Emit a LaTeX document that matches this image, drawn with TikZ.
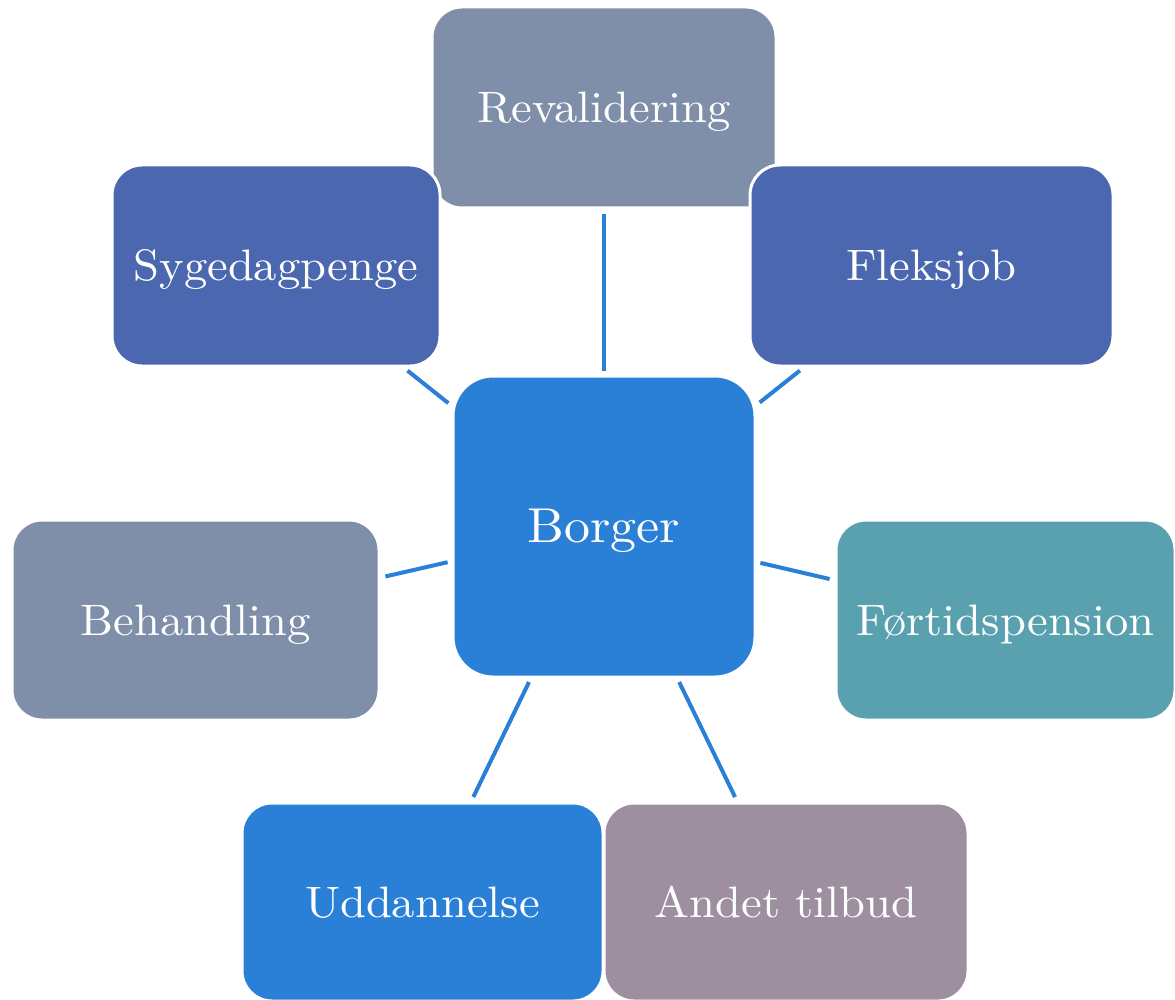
\documentclass[tikz,border=0pt]{standalone}
\usepackage{fontspec}
\newfontfamily\labfont[FakeStretch=1.06]{lmroman10-regular.otf}
\definecolor{cBlue}{HTML}{2A7FD6}
\definecolor{cNavy}{HTML}{4A67AF}
\definecolor{cGrey}{HTML}{7F8EA9}
\definecolor{cTeal}{HTML}{5AA1AF}
\definecolor{cMauve}{HTML}{9D8FA0}
\begin{document}
\begin{tikzpicture}[x=1pt,y=-1pt,
  box/.style={draw=white, line width=3pt, rounded corners=30pt, text=white,
    font=\labfont\fontsize{44}{50}\selectfont, inner sep=0pt,
    text height=35pt, text depth=5pt},
  link/.style={draw=cBlue, line width=4pt, shorten <=5pt, shorten >=4pt}]
\useasboundingbox (0,0) rectangle (1175,1000);
\node[box, fill=cGrey, minimum width=344pt, minimum height=201pt] (rev) at (604,107.5) {Revalidering};
\node[box, fill=cNavy, minimum width=328pt, minimum height=201pt] (syg) at (276,265.5) {Sygedagpenge};
\node[box, fill=cNavy, minimum width=363pt, minimum height=201pt] (flx) at (931.5,265.5) {Fleksjob};
\node[box, fill=cGrey, minimum width=367pt, minimum height=200pt] (beh) at (195.5,620) {Behandling};
\node[box, fill=cTeal, minimum width=339pt, minimum height=200pt] (fort) at (1005.5,620) {Førtidspension};
\node[box, fill=cMauve, minimum width=364pt, minimum height=198pt] (and) at (786,902) {Andet tilbud};
\node[box, fill=cBlue, minimum width=361pt, minimum height=198pt] (udd) at (422.5,902) {Uddannelse};
\node[box, fill=cBlue, minimum width=302pt, minimum height=301pt, rounded corners=40pt,
  font=\labfont\fontsize{49}{56}\selectfont, text height=38pt, text depth=6pt] (bor) at (604,526.5) {Borger};
\draw[link] (rev) -- (bor);
\draw[link] (syg) -- (bor);
\draw[link] (flx) -- (bor);
\draw[link] (beh) -- (bor);
\draw[link] (fort) -- (bor);
\draw[link] (udd) -- (bor);
\draw[link] (and) -- (bor);
\end{tikzpicture}
\end{document}
